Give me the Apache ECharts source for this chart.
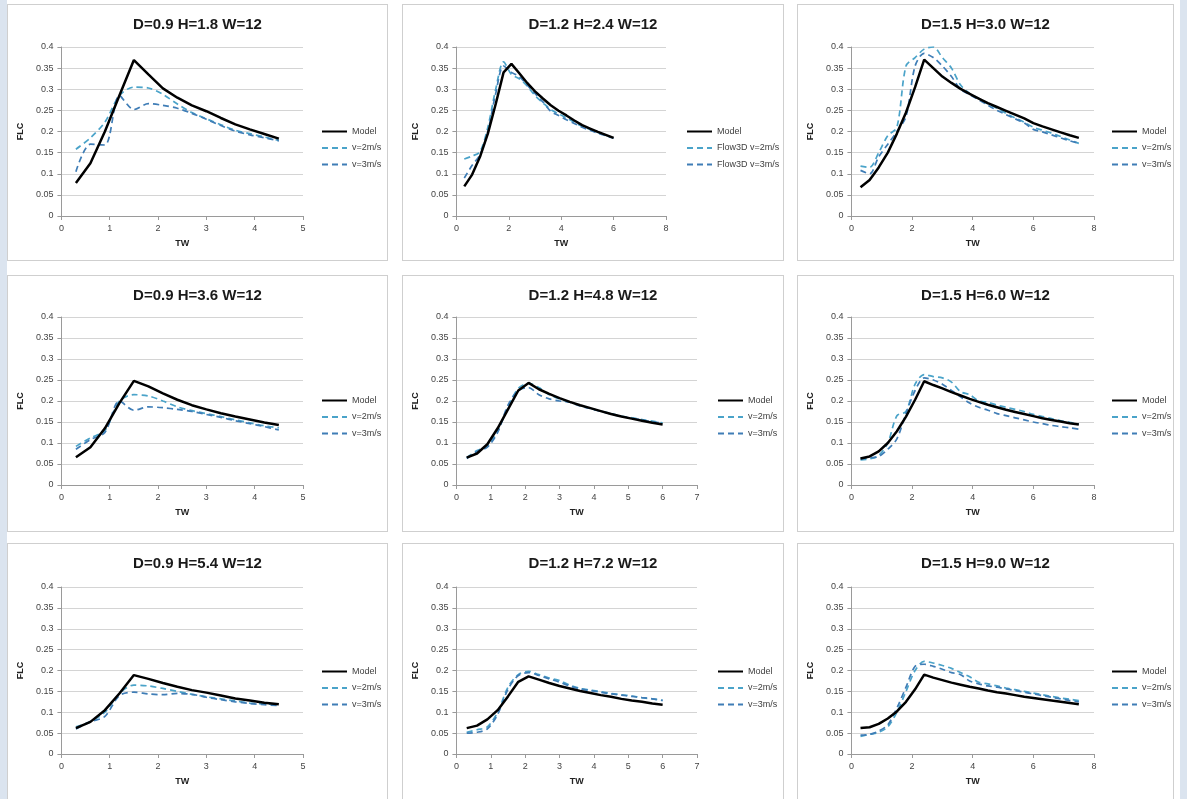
<!DOCTYPE html>
<html>
<head>
<meta charset="utf-8">
<script src="https://cdn.jsdelivr.net/npm/echarts@6/dist/echarts.min.js"></script>
<style>
  html, body { margin:0; padding:0; width:1187px; height:799px; overflow:hidden; background:#ffffff; }
  .strip { position:absolute; top:0; height:799px; background:#dbe4ef; }
  .panel { position:absolute; box-sizing:border-box; border:1px solid #cfcfcf; background:#fff; }
</style>
</head>
<body>
<div class="strip" style="left:0;width:7px"></div>
<div class="strip" style="left:1180px;width:7px"></div>
<div id="wrap"></div>
<script>
// ---------- DATA ----------
const TW_09 = [0.3,0.6,0.9,1.2,1.5,1.8,2.1,2.4,2.7,3.0,3.3,3.6,3.9,4.2,4.5];
const TW_12 = [0.3,0.6,0.9,1.2,1.5,1.8,2.1,2.4,2.7,3.0,3.3,3.6,3.9,4.2,4.5,4.8,5.1,5.4,5.7,6.0];
const TW_15 = [0.3,0.6,0.9,1.2,1.5,1.8,2.1,2.4,2.7,3.0,3.3,3.6,3.9,4.2,4.5,4.8,5.1,5.4,5.7,6.0,6.3,6.6,6.9,7.2,7.5];

const titles = ['D=0.9 H=1.8 W=12','D=1.2 H=2.4 W=12','D=1.5 H=3.0 W=12',
                'D=0.9 H=3.6 W=12','D=1.2 H=4.8 W=12','D=1.5 H=6.0 W=12',
                'D=0.9 H=5.4 W=12','D=1.2 H=7.2 W=12','D=1.5 H=9.0 W=12'];
const legendNamesDefault = ['Model','v=2m/s','v=3m/s'];
const legendNamesFlow3D = ['Model','Flow3D v=2m/s','Flow3D v=3m/s'];
const xMaxes = [5,8,8, 5,7,8, 5,7,8];
const xIntervals = [1,2,2, 1,1,2, 1,1,2];

// Panel 1: D=0.9 H=1.8
const model_1 = [0.078,0.125,0.2,0.285,0.369,0.335,0.302,0.28,0.262,0.248,0.232,0.217,0.205,0.194,0.183];
const v2_1    = [0.158,0.185,0.222,0.285,0.305,0.303,0.288,0.265,0.245,0.23,0.216,0.203,0.195,0.187,0.179];
const v3_1    = [0.105,0.17,0.168,0.285,0.252,0.266,0.262,0.255,0.243,0.229,0.214,0.201,0.192,0.185,0.178];
// Panel 2: D=1.2 H=2.4
const model_2 = [0.07,0.098,0.14,0.195,0.265,0.34,0.36,0.338,0.315,0.295,0.278,0.262,0.249,0.238,0.226,0.215,0.207,0.199,0.192,0.185];
const v2_2    = [0.135,0.142,0.152,0.21,0.3,0.365,0.335,0.325,0.308,0.285,0.268,0.252,0.242,0.232,0.222,0.212,0.205,0.198,0.191,0.185];
const v3_2    = [0.09,0.12,0.145,0.2,0.29,0.355,0.34,0.33,0.31,0.29,0.27,0.248,0.238,0.228,0.219,0.21,0.203,0.196,0.19,0.184];
// Panel 3: D=1.5 H=3.0
const model_3 = [0.068,0.085,0.115,0.15,0.195,0.245,0.305,0.37,0.35,0.33,0.315,0.301,0.289,0.278,0.267,0.258,0.249,0.24,0.231,0.22,0.212,0.205,0.198,0.191,0.185];
const v2_3    = [0.118,0.115,0.15,0.19,0.21,0.355,0.375,0.395,0.4,0.375,0.35,0.31,0.29,0.278,0.265,0.255,0.243,0.232,0.222,0.21,0.203,0.196,0.188,0.18,0.172];
const v3_3    = [0.108,0.1,0.14,0.17,0.2,0.235,0.355,0.385,0.375,0.355,0.33,0.3,0.287,0.275,0.262,0.25,0.24,0.23,0.22,0.205,0.199,0.192,0.185,0.178,0.172];
// Panel 4: D=0.9 H=3.6
const model_4 = [0.066,0.09,0.135,0.195,0.248,0.235,0.218,0.203,0.19,0.18,0.171,0.163,0.156,0.149,0.143];
const v2_4    = [0.092,0.112,0.13,0.2,0.215,0.212,0.2,0.186,0.177,0.17,0.163,0.155,0.148,0.141,0.136];
const v3_4    = [0.085,0.108,0.125,0.2,0.178,0.186,0.184,0.18,0.175,0.168,0.161,0.153,0.146,0.139,0.131];
// Panel 5: D=1.2 H=4.8
const model_5 = [0.065,0.075,0.097,0.135,0.18,0.225,0.243,0.228,0.217,0.207,0.198,0.19,0.183,0.176,0.169,0.163,0.158,0.153,0.148,0.144];
const v2_5    = [0.065,0.082,0.092,0.13,0.185,0.23,0.242,0.232,0.215,0.205,0.197,0.19,0.182,0.176,0.17,0.164,0.16,0.156,0.152,0.148];
const v3_5    = [0.063,0.08,0.09,0.125,0.19,0.225,0.232,0.215,0.205,0.2,0.197,0.188,0.182,0.175,0.169,0.163,0.159,0.155,0.15,0.148];
// Panel 6: D=1.5 H=6.0
const model_6 = [0.063,0.068,0.08,0.1,0.128,0.163,0.203,0.247,0.238,0.23,0.221,0.213,0.205,0.198,0.191,0.185,0.179,0.174,0.169,0.164,0.159,0.155,0.151,0.147,0.144];
const v2_6    = [0.06,0.062,0.07,0.1,0.165,0.175,0.24,0.263,0.258,0.255,0.245,0.222,0.215,0.2,0.197,0.19,0.185,0.18,0.175,0.168,0.163,0.158,0.153,0.149,0.145];
const v3_6    = [0.063,0.065,0.068,0.085,0.11,0.17,0.225,0.255,0.25,0.24,0.225,0.21,0.195,0.185,0.178,0.17,0.165,0.16,0.155,0.15,0.146,0.142,0.139,0.136,0.133];
// Panel 7: D=0.9 H=5.4
const model_7 = [0.062,0.077,0.105,0.145,0.189,0.18,0.17,0.161,0.153,0.147,0.14,0.133,0.128,0.123,0.119];
const v2_7    = [0.065,0.078,0.1,0.145,0.165,0.163,0.157,0.15,0.143,0.137,0.132,0.127,0.122,0.12,0.118];
const v3_7    = [0.06,0.077,0.09,0.14,0.148,0.144,0.142,0.145,0.143,0.136,0.13,0.125,0.121,0.118,0.116];
// Panel 8: D=1.2 H=7.2
const model_8 = [0.062,0.068,0.083,0.105,0.138,0.173,0.186,0.178,0.17,0.163,0.157,0.151,0.146,0.141,0.137,0.132,0.128,0.125,0.121,0.118];
const v2_8    = [0.052,0.058,0.065,0.1,0.16,0.19,0.198,0.19,0.182,0.176,0.165,0.157,0.153,0.149,0.145,0.142,0.139,0.135,0.132,0.129];
const v3_8    = [0.05,0.052,0.06,0.095,0.155,0.188,0.195,0.188,0.18,0.172,0.163,0.156,0.152,0.148,0.144,0.141,0.138,0.135,0.132,0.128];
// Panel 9: D=1.5 H=9.0
const model_9 = [0.062,0.064,0.072,0.085,0.102,0.125,0.155,0.19,0.183,0.177,0.171,0.166,0.161,0.157,0.152,0.148,0.145,0.141,0.137,0.134,0.131,0.128,0.125,0.122,0.119];
const v2_9    = [0.042,0.047,0.052,0.065,0.1,0.15,0.2,0.222,0.218,0.212,0.205,0.195,0.185,0.172,0.168,0.163,0.158,0.154,0.15,0.146,0.142,0.138,0.134,0.131,0.128];
const v3_9    = [0.045,0.047,0.055,0.07,0.11,0.16,0.21,0.215,0.21,0.203,0.195,0.19,0.175,0.168,0.163,0.16,0.156,0.152,0.148,0.144,0.14,0.136,0.132,0.128,0.125];

const twSets = [TW_09,TW_12,TW_15, TW_09,TW_12,TW_15, TW_09,TW_12,TW_15];
const modelSets = [model_1,model_2,model_3,model_4,model_5,model_6,model_7,model_8,model_9];
const v2Sets = [v2_1,v2_2,v2_3,v2_4,v2_5,v2_6,v2_7,v2_8,v2_9];
const v3Sets = [v3_1,v3_2,v3_3,v3_4,v3_5,v3_6,v3_7,v3_8,v3_9];

// ---------- LAYOUT ----------
const colLeft = [7,402,797], colWidth = [381,382,377];
const rowTop = [4,275,543], rowHeight = [257,257,257];
const gridTop = [42,41,43], gridBottom = [44,46,45];
const gridRight = [84,117,79, 84,86,79, 84,86,79];
const legendLeft = [313,283,313, 313,314,313, 313,314,313];
const legendTop = [122,120,123];
const FONT = 'Liberation Sans, Arial, sans-serif';
const C_MODEL = '#000000', C_V2 = '#4aa3c9', C_V3 = '#3f7db6';

const pair = (xs, ys) => xs.map((x, i) => [x, ys[i]]);
const wrap = document.getElementById('wrap');

for (let p = 0; p < 9; p++) {
  const r = Math.floor(p / 3), c = p % 3;
  const d = document.createElement('div');
  d.className = 'panel';
  d.style.left = colLeft[c] + 'px';
  d.style.top = rowTop[r] + 'px';
  d.style.width = colWidth[c] + 'px';
  d.style.height = rowHeight[r] + 'px';
  wrap.appendChild(d);
  const chart = echarts.init(d, null, { renderer: 'canvas', width: colWidth[c] - 2, height: rowHeight[r] - 2 });
  const names = p === 1 ? legendNamesFlow3D : legendNamesDefault;
  const tw = twSets[p];
  chart.setOption({
    animation: false,
    backgroundColor: '#fff',
    title: {
      text: titles[p], left: 'center', top: 7,
      textStyle: { fontFamily: FONT, fontSize: 15, fontWeight: 'bold', color: '#1a1a1a' }
    },
    grid: { left: 53, right: gridRight[p], top: gridTop[r], bottom: gridBottom[r] },
    legend: {
      orient: 'vertical', left: legendLeft[p], top: legendTop[r], padding: 0,
      itemWidth: 25, itemHeight: 10, itemGap: 7.5,
      itemStyle: { opacity: 0 },
      textStyle: { fontFamily: FONT, fontSize: 9, color: '#404040' },
      data: names
    },
    xAxis: {
      type: 'value', min: 0, max: xMaxes[p], interval: xIntervals[p],
      name: 'TW', nameLocation: 'middle', nameGap: 23,
      nameTextStyle: { fontFamily: FONT, fontSize: 9, fontWeight: 'bold', color: '#222' },
      axisLine: { lineStyle: { color: '#9a9a9a', width: 1 } },
      axisTick: { show: true, inside: false, length: 4, lineStyle: { color: '#9a9a9a' } },
      axisLabel: { fontFamily: FONT, fontSize: 9, color: '#444', margin: 8 },
      splitLine: { show: false }
    },
    yAxis: {
      type: 'value', min: 0, max: 0.4, interval: 0.05,
      name: 'FLC', nameLocation: 'middle', nameGap: 29,
      nameTextStyle: { fontFamily: FONT, fontSize: 9, fontWeight: 'bold', color: '#222' },
      axisLine: { show: true, lineStyle: { color: '#9a9a9a', width: 1 } },
      axisTick: { show: true, length: 4, lineStyle: { color: '#9a9a9a' } },
      axisLabel: { fontFamily: FONT, fontSize: 9, color: '#444', margin: 8,
                   formatter: v => String(+v.toFixed(2)) },
      splitLine: { show: true, lineStyle: { color: '#d4d4d4', width: 1 } }
    },
    series: [
      { name: names[0], type: 'line', data: pair(tw, modelSets[p]), symbol: 'none',
        lineStyle: { color: C_MODEL, width: 2.5 }, itemStyle: { color: C_MODEL }, z: 5 },
      { name: names[1], type: 'line', data: pair(tw, v2Sets[p]), symbol: 'none', smooth: 0.3,
        lineStyle: { color: C_V2, width: 1.7, type: [6, 4] }, itemStyle: { color: C_V2 }, z: 3 },
      { name: names[2], type: 'line', data: pair(tw, v3Sets[p]), symbol: 'none', smooth: 0.3,
        lineStyle: { color: C_V3, width: 1.7, type: [6, 4] }, itemStyle: { color: C_V3 }, z: 4 }
    ]
  });
}
</script>
</body>
</html>
